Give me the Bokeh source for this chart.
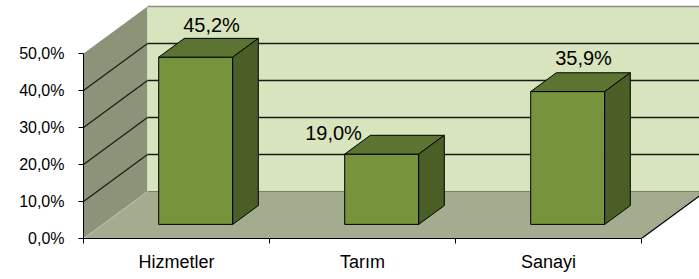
import numpy as np
from bokeh.plotting import figure
from bokeh.models import Range1d, FixedTicker, ColumnDataSource
from bokeh.core.properties import value
from bokeh.embed import file_html
from bokeh.resources import INLINE

# ---- data ----
categories = ["Hizmetler", "Tarım", "Sanayi"]
shares = [45.2, 19.0, 35.9]
value_labels = ["45,2%", "19,0%", "35,9%"]
y_ticks = [0, 10, 20, 30, 40, 50]
y_tick_labels = ["0,0%", "10,0%", "20,0%", "30,0%", "40,0%", "50,0%"]

# ---- layout constants (pixels) ----
W, H = 699, 279
LEFT, BOTTOM = 83, 41
CAT_PX = 186.0          # width of one category on the front floor edge
PCT_PX = 3.7            # pixels per percent
DEPTH_X_PX, DEPTH_Y_PX = 64.0, 47.0
BAR_HALF_PX = 37.0
BAR_FRONT = 0.3         # depth position of bar front face (0..1)
BAR_DEPTH = 0.4
LABEL_DX = [3, -61, 3]
LABEL_DY = [-23, -12, -24]

FONT = "Liberation Sans"

fw = W - LEFT
fh = H - BOTTOM
n = len(categories)
dx = DEPTH_X_PX / CAT_PX
dy = DEPTH_Y_PX / PCT_PX
ymax = y_ticks[-1]
hw = BAR_HALF_PX / CAT_PX

p = figure(width=W, height=H, output_backend="svg", toolbar_location=None,
           x_range=Range1d(0, fw / CAT_PX), y_range=Range1d(0, fh / PCT_PX),
           min_border_left=LEFT, min_border_right=0, min_border_top=0,
           min_border_bottom=BOTTOM)
p.outline_line_color = None
p.xgrid.visible = False
p.ygrid.visible = False
p.background_fill_color = "white"
p.border_fill_color = "white"

# ---- walls ----
p.patch([0, 0, dx, dx], [0, ymax, ymax + dy, dy], fill_color="#8b9479", line_color=None)
p.patch([dx, n + dx + 1, n + dx + 1, dx], [dy, dy, ymax + dy, ymax + dy],
        fill_color="#d7e4bd", line_color=None)
p.patch([0, n, n + dx, dx], [0, 0, dy, dy], fill_color="#a3ac8f", line_color=None)

# wall edges
p.line([dx, n + dx + 1], [ymax + dy, ymax + dy], line_color="#8c8c8c", line_width=1.5)
p.line([dx, n + dx], [dy, dy], line_color="#7a7f6e", line_width=1)
p.line([0, dx], [0, dy], line_color="#b9bfab", line_width=1)
p.line([n, n + dx], [0, dy], line_color="black", line_width=1.2)

# gridlines on back wall and side wall
inner = y_ticks[1:-1]
p.multi_line([[dx, n + dx + 1] for v in inner], [[v + dy, v + dy] for v in inner],
             line_color="#1a1a1a", line_width=1.5)
p.multi_line([[0, dx] for v in inner], [[v, v + dy] for v in inner],
             line_color="#1a1a1a", line_width=1.2)

# ---- bars ----
fx, fy = BAR_FRONT * dx, BAR_FRONT * dy
bdx, bdy = BAR_DEPTH * dx, BAR_DEPTH * dy
front_xs, front_ys, top_xs, top_ys, side_xs, side_ys = [], [], [], [], [], []
for i, v in enumerate(shares):
    cx = i + 0.5 + fx
    x0, x1 = cx - hw, cx + hw
    y0, y1 = fy, v + fy
    front_xs.append([x0, x1, x1, x0]); front_ys.append([y0, y0, y1, y1])
    top_xs.append([x0, x1, x1 + bdx, x0 + bdx]); top_ys.append([y1, y1, y1 + bdy, y1 + bdy])
    side_xs.append([x1, x1 + bdx, x1 + bdx, x1]); side_ys.append([y0, y0 + bdy, y1 + bdy, y1])

p.patches(front_xs, front_ys, fill_color="#77933c", line_color="black", line_width=1)
p.patches(top_xs, top_ys, fill_color="#5b7431", line_color="black", line_width=1)
p.patches(side_xs, side_ys, fill_color="#4b5e26", line_color="black", line_width=1)

# ---- value labels ----
lab = ColumnDataSource(dict(
    x=[i + 0.5 + 0.5 * dx for i in range(n)],
    y=[v + 0.5 * dy for v in shares],
    text=value_labels, xo=LABEL_DX, yo=LABEL_DY))
p.text(x="x", y="y", text="text", x_offset="xo", y_offset="yo", source=lab,
       text_font=value(FONT), text_font_size="20px", text_color="black",
       text_align="center", text_baseline="middle")

# ---- axes ----
ya = p.yaxis[0]
ya.ticker = FixedTicker(ticks=y_ticks)
ya.major_label_overrides = {t: s for t, s in zip(y_ticks, y_tick_labels)}
ya.bounds = (y_ticks[0], y_ticks[-1])
ya.major_tick_in = 0
ya.major_tick_out = 5
ya.minor_tick_line_color = None
ya.major_label_standoff = 14
ya.major_label_text_font = FONT
ya.major_label_text_font_size = "16px"
ya.major_label_text_color = "black"
ya.axis_line_color = "black"
ya.major_tick_line_color = "black"

xa = p.xaxis[0]
centers = [i + 0.5 for i in range(n)]
xa.ticker = FixedTicker(ticks=centers, minor_ticks=list(range(n + 1)))
xa.major_label_overrides = {c: s for c, s in zip(centers, categories)}
xa.bounds = (0, n)
xa.major_tick_in = 0
xa.major_tick_out = 0
xa.minor_tick_in = 0
xa.minor_tick_out = 5
xa.minor_tick_line_color = "black"
xa.major_label_standoff = 8
xa.major_label_text_font = FONT
xa.major_label_text_font_size = "18px"
xa.major_label_text_color = "black"
xa.axis_line_color = "black"

open("out.html", "w").write(file_html(p, INLINE))
